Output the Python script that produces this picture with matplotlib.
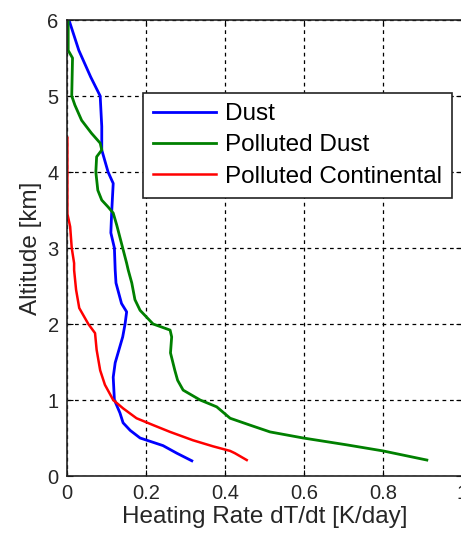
import matplotlib.pyplot as plt

plt.rcParams['font.family'] = ['Liberation Sans', 'DejaVu Sans']

# Dust
dust_x = [0.005, 0.03, 0.06, 0.084, 0.088, 0.088, 0.104, 0.117, 0.113, 0.111, 0.12, 0.122,
          0.124, 0.138, 0.151, 0.147, 0.141, 0.122, 0.117, 0.12, 0.134, 0.142, 0.16, 0.185,
          0.243, 0.278, 0.316]
dust_y = [6.0, 5.6, 5.25, 5.0, 4.6, 4.29, 4.0, 3.85, 3.46, 3.2, 3.0, 2.71,
          2.54, 2.27, 2.16, 2.0, 1.83, 1.49, 1.3, 1.0, 0.83, 0.70, 0.6, 0.5,
          0.4, 0.3, 0.2]

# Polluted Dust
pdust_x = [0.003, 0.003, 0.014, 0.012, 0.02, 0.037, 0.062, 0.084, 0.088, 0.075, 0.073,
           0.078, 0.088, 0.104, 0.117, 0.126, 0.141, 0.151, 0.155, 0.164, 0.172, 0.185,
           0.218, 0.261, 0.265, 0.262, 0.273, 0.28, 0.294, 0.337, 0.379, 0.413, 0.463,
           0.514, 0.598, 0.708, 0.8, 0.911]
pdust_y = [6.0, 5.6, 5.5, 5.0, 4.88, 4.68, 4.51, 4.38, 4.29, 4.2, 4.0,
           3.76, 3.63, 3.54, 3.46, 3.3, 3.0, 2.8, 2.71, 2.54, 2.32, 2.18,
           2.0, 1.92, 1.83, 1.62, 1.39, 1.26, 1.13, 1.0, 0.91, 0.76, 0.67,
           0.58, 0.5, 0.41, 0.33, 0.21]

# Polluted Continental
pcont_x = [0.001, 0.001, 0.008, 0.012, 0.018, 0.018, 0.023, 0.031, 0.054, 0.071, 0.075,
           0.084, 0.096, 0.117, 0.142, 0.176, 0.218, 0.261, 0.319, 0.37, 0.413, 0.425, 0.455]
pcont_y = [4.45, 3.45, 3.28, 3.0, 2.8, 2.71, 2.45, 2.21, 2.0, 1.88, 1.66,
           1.39, 1.2, 1.0, 0.89, 0.76, 0.67, 0.58, 0.47, 0.39, 0.33, 0.3, 0.21]

xticks = [0, 0.2, 0.4, 0.6, 0.8, 1]
xticklabels = ['0', '0.2', '0.4', '0.6', '0.8', '1']
yticks = [0, 1, 2, 3, 4, 5, 6]

fig = plt.figure(figsize=(4.61, 5.36), dpi=100)
ax = fig.add_axes([67 / 461, 1 - 476 / 536, 395 / 461, 456 / 536])

ax.plot(dust_x, dust_y, color='#0000ff', lw=2, label='Dust')
ax.plot(pdust_x, pdust_y, color='#008000', lw=2, label='Polluted Dust')
ax.plot(pcont_x, pcont_y, color='#ff0000', lw=1.8, label='Polluted Continental')

ax.set_xlim(0, 1)
ax.set_ylim(0, 6)
ax.set_xticks(xticks)
ax.set_xticklabels(xticklabels)
ax.set_yticks(yticks)
ax.tick_params(direction='in', top=True, right=True, labelsize=14.5,
               labelcolor='#262626', length=4, width=0.8, pad=6)
ax.grid(True, color='black', linestyle=(0, (3, 3)), linewidth=0.9)
for s in ax.spines.values():
    s.set_linewidth(1.2)
    s.set_color('#222222')

ax.set_xlabel('Heating Rate dT/dt [K/day]', fontsize=17.5, color='#262626', labelpad=2)
ax.set_ylabel('Altitude [km]', fontsize=17.5, color='#262626', labelpad=4)

leg = ax.legend(loc='upper left', bbox_to_anchor=(0.192, 0.84), fontsize=17.5,
                frameon=True, fancybox=False, framealpha=1, edgecolor='#222222',
                handlelength=2.6, handletextpad=0.37, labelspacing=0.38,
                borderpad=0.42, borderaxespad=0)
leg.get_frame().set_linewidth(1.2)

fig.savefig('out.png', dpi=100)
